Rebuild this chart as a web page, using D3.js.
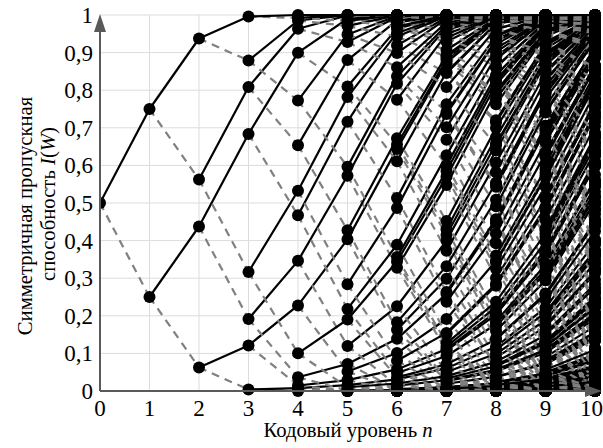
<!DOCTYPE html>
<html>
<head>
<meta charset="utf-8">
<script src="https://cdn.jsdelivr.net/npm/d3@7"></script>
<style>
  body { margin: 0; background: #fff; }
  svg { display: block; }
  text { font-family: "Liberation Serif", "Times New Roman", serif; }
</style>
</head>
<body>
<div id="chart"></div>
<script>
// data
const levels = [0, 1, 2, 3, 4, 5, 6, 7, 8, 9, 10];
const startCapacity = [0.5];          // I(W) at level 0 (BEC, erasure 0.5)
const xTicks = [0, 1, 2, 3, 4, 5, 6, 7, 8, 9, 10];
const yTicks = [0, 0.1, 0.2, 0.3, 0.4, 0.5, 0.6, 0.7, 0.8, 0.9, 1];
const xTitle = "Кодовый уровень ";
const yTitle = ["Симметричная пропускная", "способность "];

drawChart();

function buildLevels () {
  // each channel splits into a better (2I - I^2) and a worse (I^2) one
  const out = [startCapacity.slice()];
  for (let n = 1; n < levels.length; n++) {
    const prev = out[n - 1];
    const cur = [];
    prev.forEach(v => { cur.push(v * v); cur.push(2 * v - v * v); });
    out.push(cur);
  }
  return out;
}

function drawChart () {
  const width = 603, height = 448;
  const margin = { left: 100, right: 8, top: 15, bottom: 57 };
  const data = buildLevels();

  const x = d3.scaleLinear().domain([0, 10]).range([margin.left, 595]);
  const y = d3.scaleLinear().domain([0, 1]).range([height - margin.bottom, margin.top]);

  const svg = d3.select("#chart").append("svg")
    .attr("width", width)
    .attr("height", height);

  svg.append("defs").append("clipPath").attr("id", "clip")
    .append("rect")
      .attr("x", margin.left).attr("y", 0)
      .attr("width", width - margin.left).attr("height", height);

  // grid
  const grid = svg.append("g").attr("stroke", "#dcdcdc").attr("stroke-width", 1);
  grid.selectAll(".gx").data(xTicks.slice(1)).enter().append("line")
    .attr("x1", d => x(d)).attr("x2", d => x(d))
    .attr("y1", y(0)).attr("y2", y(1));
  grid.selectAll(".gy").data(yTicks.slice(1)).enter().append("line")
    .attr("x1", x(0)).attr("x2", x(10))
    .attr("y1", d => y(d)).attr("y2", d => y(d));

  const plot = svg.append("g").attr("clip-path", "url(#clip)");

  // links, node by node: worse (dashed) then better (solid)
  for (let n = 0; n < data.length - 1; n++) {
    const edges = [];
    data[n].forEach((v, i) => {
      edges.push({ n: n, a: v, b: data[n + 1][2 * i], worse: true });
      edges.push({ n: n, a: v, b: data[n + 1][2 * i + 1], worse: false });
    });
    plot.append("g").selectAll("line")
      .data(edges).enter().append("line")
        .attr("x1", d => x(levels[d.n])).attr("x2", d => x(levels[d.n + 1]))
        .attr("y1", d => y(d.a)).attr("y2", d => y(d.b))
        .attr("stroke", d => d.worse ? "#808080" : "#000")
        .attr("stroke-width", d => d.worse ? 2.2 : 2.2)
        .attr("stroke-dasharray", d => d.worse ? "8,6" : null);
  }

  // points
  data.forEach((vals, n) => {
    plot.append("g").selectAll("circle")
      .data(vals).enter().append("circle")
        .attr("cx", x(levels[n])).attr("cy", d => y(d))
        .attr("r", 6).attr("fill", "#000");
  });

  // axes
  const axisColor = "#5a5a5a";
  svg.append("line")
    .attr("x1", x(0)).attr("x2", x(0))
    .attr("y1", y(0)).attr("y2", y(1) + 8)
    .attr("stroke", axisColor).attr("stroke-width", 2);
  svg.append("path")
    .attr("d", `M${x(0)},${y(1) - 1}L${x(0) - 6},${y(1) + 17}L${x(0) + 6},${y(1) + 17}Z`)
    .attr("fill", axisColor);
  svg.append("line")
    .attr("x1", x(0)).attr("x2", x(10) - 4)
    .attr("y1", y(0)).attr("y2", y(0))
    .attr("stroke", axisColor).attr("stroke-width", 2);
  svg.append("path")
    .attr("d", `M${x(10) + 7},${y(0)}L${x(10) - 10},${y(0) - 6}L${x(10) - 10},${y(0) + 6}Z`)
    .attr("fill", axisColor);

  // tick labels
  const fmt = d => String(d).replace(".", ",");
  svg.append("g").selectAll("text")
    .data(yTicks).enter().append("text")
      .attr("x", x(0) - 7).attr("y", d => y(d) + 8)
      .attr("text-anchor", "end")
      .attr("font-size", 23)
      .text(fmt);
  svg.append("g").selectAll("text")
    .data(xTicks).enter().append("text")
      .attr("x", d => d === 10 ? width : x(d))
      .attr("y", y(0) + 25)
      .attr("text-anchor", d => d === 10 ? "end" : "middle")
      .attr("font-size", 23)
      .text(fmt);

  // titles
  const xt = svg.append("text")
    .attr("x", 348).attr("y", 437)
    .attr("text-anchor", "middle")
    .attr("font-size", 20.7)
    .text(xTitle);
  xt.append("tspan").attr("font-style", "italic").text("n");

  svg.append("text")
    .attr("transform", "translate(0, 216) rotate(-90)")
    .attr("text-anchor", "middle")
    .attr("y", 32)
    .attr("font-size", 20.7)
    .text(yTitle[0]);
  const yt = svg.append("text")
    .attr("transform", "translate(0, 204) rotate(-90)")
    .attr("text-anchor", "middle")
    .attr("y", 55)
    .attr("font-size", 20.7);
  yt.append("tspan").text(yTitle[1]);
  yt.append("tspan").attr("font-style", "italic").text("I");
  yt.append("tspan").text("(");
  yt.append("tspan").attr("font-style", "italic").text("W");
  yt.append("tspan").text(")");
}
</script>
</body>
</html>
